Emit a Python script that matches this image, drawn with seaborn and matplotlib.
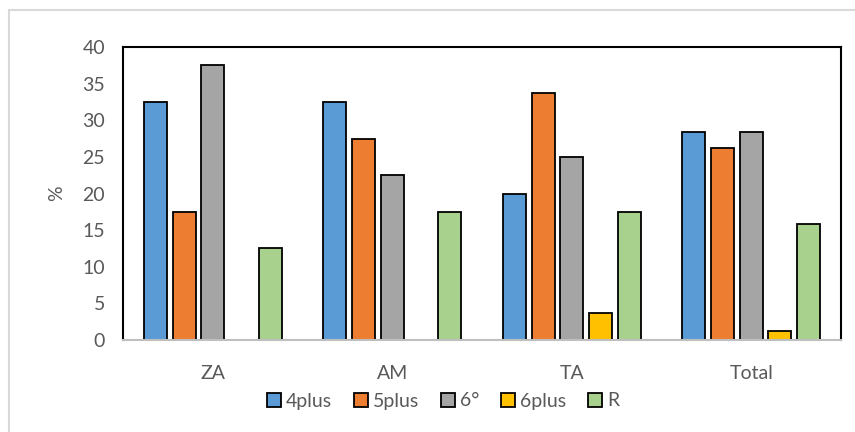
import matplotlib
matplotlib.use("Agg")
import matplotlib.pyplot as plt
from matplotlib.patches import Rectangle, Patch
import pandas as pd
import seaborn as sns

# Share of each class by site (%)
groups = ["ZA", "AM", "TA", "Total"]
series = ["4plus", "5plus", "6°", "6plus", "R"]
v_4plus = [32.5, 32.5, 20.0, 28.33]
v_5plus = [17.5, 27.5, 33.75, 26.25]
v_6deg = [37.5, 22.5, 25.0, 28.33]
v_6plus = [0.0, 0.0, 3.75, 1.25]
v_R = [12.5, 17.5, 17.5, 15.83]
colors = ["#5B9BD5", "#ED7D31", "#A5A5A5", "#FFC000", "#A9D18E"]

values = [v_4plus, v_5plus, v_6deg, v_6plus, v_R]
df = pd.DataFrame(
    [(g, s, vals[i]) for s, vals in zip(series, values) for i, g in enumerate(groups)],
    columns=["group", "series", "value"],
)

sns.set_theme(style="white")
plt.rcParams["font.family"] = ["Lato", "DejaVu Sans"]
text_color = "#595959"
fs = 14

fig = plt.figure(figsize=(8.55, 4.32), dpi=100)
W, H = 855, 432
ax = fig.add_axes([123 / W, 1 - 340 / H, (841 - 123) / W, (340 - 47) / H])

sns.barplot(
    data=df, x="group", y="value", hue="series", order=groups, hue_order=series,
    palette=colors, width=0.8, gap=0.2, edgecolor="black", linewidth=1.3,
    saturation=1, ax=ax, legend=False, errorbar=None,
)

# Zero-height bars carry no outline
for p in ax.patches:
    if p.get_height() == 0:
        p.set_linewidth(0)

ax.set_ylim(0, 40)
ax.set_yticks(range(0, 41, 5))
ax.set_xlim(-0.5, 3.5)
ax.set_xlabel("")
ax.set_ylabel("%", fontsize=fs, color=text_color, labelpad=12)
ax.tick_params(axis="both", length=0, labelsize=fs, labelcolor=text_color)
ax.tick_params(axis="x", pad=18)
ax.tick_params(axis="y", pad=13)

for side in ["top", "left", "right"]:
    ax.spines[side].set_color("black")
    ax.spines[side].set_linewidth(1.5)
ax.spines["bottom"].set_color("#BFBFBF")
ax.spines["bottom"].set_linewidth(1.5)

handles = [Patch(facecolor=c, edgecolor="black", linewidth=1.3) for c in colors]
fig.legend(
    handles, series, loc="center", bbox_to_anchor=(443 / W, 1 - 401 / H),
    ncol=5, frameon=False, fontsize=fs, labelcolor=text_color,
    handlelength=0.75, handleheight=0.75, handletextpad=0.25, columnspacing=1.1,
)

# Light outer frame around the chart
fig.patches.append(Rectangle((9 / W, -0.05), 1.0, 1 - 10 / H + 0.05,
                             transform=fig.transFigure, fill=False,
                             edgecolor="#D9D9D9", linewidth=1.5))

fig.savefig("out.png", dpi=100)
